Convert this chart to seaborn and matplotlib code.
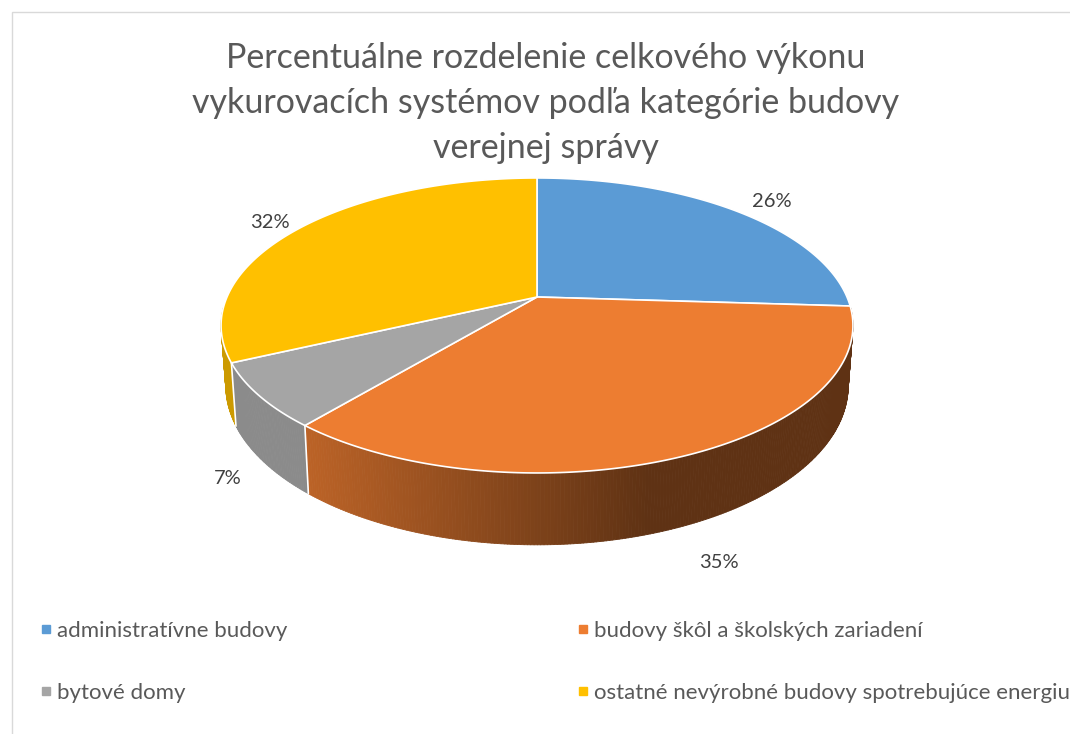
import numpy as np
import matplotlib
matplotlib.use("Agg")
import matplotlib.pyplot as plt
from matplotlib.collections import PolyCollection
from matplotlib.patches import Rectangle
from matplotlib.lines import Line2D
import seaborn as sns

# data
categories = ["administratívne budovy", "budovy škôl a školských zariadení",
              "bytové domy", "ostatné nevýrobné budovy spotrebujúce energiu"]
shares = [26, 35, 7, 32]
colors = ["#5B9BD5", "#ED7D31", "#A5A5A5", "#FFC000"]
title = ("Percentuálne rozdelenie celkového výkonu\n"
         "vykurovacích systémov podľa kategórie budovy\n"
         "verejnej správy")

sns.set_theme(style="white")
plt.rcParams["font.family"] = ["Lato", "DejaVu Sans"]

fig = plt.figure(figsize=(10.7, 7.34), dpi=100)
ax = fig.add_axes([0, 0, 1, 1])
ax.set_xlim(0, 1070)
ax.set_ylim(734, 0)
ax.axis("off")

# 3D pie geometry (pixel space, simple perspective)
cx, cy = 537, 297
A, B, k, H = 310, 142, 0.193, 58
shrink = 0.985  # bottom rim a bit smaller (further from the eye)


def proj(theta, r=1.0):
    u = r * np.sin(theta)
    v = -r * np.cos(theta)
    w = 1 - k * v
    return cx + A * u / w, cy + B * v / w, w


fracs = np.array(shares) / sum(shares)
bounds = np.concatenate([[0], np.cumsum(fracs)]) * 2 * np.pi

# side walls with gradient
polys, fcs = [], []
for i, c in enumerate(colors):
    rgb = np.array(matplotlib.colors.to_rgb(c))
    th = np.linspace(bounds[i], bounds[i + 1], max(int(np.degrees(bounds[i + 1] - bounds[i]) * 2), 2))
    x, y, w = proj(th)
    yb = y + H / w
    xb = cx + (x - cx) * shrink
    for j in range(len(th) - 1):
        if np.cos(th[j]) > -0.07 or np.cos(th[j + 1]) > -0.07:
            continue
        polys.append([(x[j], y[j]), (x[j + 1], y[j + 1]), (xb[j + 1], yb[j + 1]), (xb[j], yb[j])])
        t = np.clip((x[j] - 300) / 350, 0, 1)
        f = (0.84 if i == 2 else 0.80) - 0.40 * t
        fcs.append(tuple(rgb * f))
ax.add_collection(PolyCollection(polys, facecolors=fcs, edgecolors=fcs, linewidths=0.6))

# white vertical edges at slice borders on the front
for b in bounds:
    x, y, w = proj(b)
    if -np.cos(b) > 0.1:
        ax.plot([x, cx + (x - cx) * shrink], [y, y + H / w], color="white", lw=1.2)

# top faces
for i, c in enumerate(colors):
    th = np.linspace(bounds[i], bounds[i + 1], 200)
    x, y, _ = proj(th)
    ax.fill(np.concatenate([[cx], x]), np.concatenate([[cy], y]),
            facecolor=c, edgecolor="white", linewidth=1.2, joinstyle="round")

# percentage labels
label_r = [1.18, 1.15, 1.11, 1.16]
for i, s in enumerate(shares):
    mid = (bounds[i] + bounds[i + 1]) / 2
    x, y, w = proj(mid, label_r[i])
    if -np.cos(mid) > 0:
        y += H / w
    ax.text(x + 4, y + 4, f"{s}%", ha="center", va="center", fontsize=14.5, color="#404040")

# title
fig.text(546 / 1070, 1 - 103 / 734, title, ha="center", va="center",
         fontsize=24.5, color="#595959", linespacing=1.5)

# legend (row-wise order like the original)
order = [0, 2, 1, 3]
handles = [Line2D([], [], marker="s", ls="", color=colors[i], markersize=6) for i in order]
fig.legend(handles, [categories[i] for i in order], ncol=2, loc="upper left",
           bbox_to_anchor=(17 / 1070, 1 - 601 / 734), frameon=False,
           fontsize=16, labelcolor="#595959", handletextpad=0.1,
           columnspacing=12.9, labelspacing=1.9, handlelength=0.8)

# chart area frame
fig.patches.append(Rectangle((12 / 1070, -0.1), 1.2, 1 - 12 / 734 + 0.1,
                             transform=fig.transFigure, fill=False,
                             edgecolor="#D9D9D9", lw=1))

fig.savefig("out.png", dpi=100)
